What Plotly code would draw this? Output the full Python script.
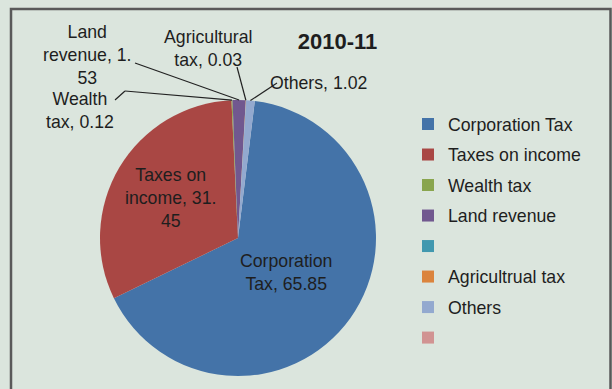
import math
import plotly.graph_objects as go

# Share of direct tax collections, 2010-11 (per cent)
categories = ["Corporation Tax", "Taxes on income", "Wealth tax", "Land revenue",
              " ", "Agricultrual tax", "Others", "  "]
shares = [65.85, 31.45, 0.12, 1.53, 0, 0.03, 1.02, 0]
colors = ["#4473A8", "#A94744", "#89A54E", "#71588F",
          "#4198AF", "#DB843D", "#93A9CF", "#D19392"]
year_label = "2010-11"

W, H = 612, 389
BG = "#DBE5DD"
INK = "#1E1E1E"
FONT = "Liberation Sans, Arial, sans-serif"
FS = 17.7

# pie geometry in pixels
CX, CY, R = 238, 238, 138
ROTATION = 7


def px(x):
    return x / W


def py(y):
    return 1 - y / H


def fmt(v):
    return f"{v:.2f}"


# mid-angle (degrees clockwise from 12 o'clock) for every slice
total = sum(shares)
mid_angle = {}
acc = ROTATION
for name, v in zip(categories, shares):
    span = v / total * 360
    mid_angle[name] = acc + span / 2
    acc += span


def polar(name, frac):
    a = math.radians(mid_angle[name])
    return CX + frac * R * math.sin(a), CY - frac * R * math.cos(a)


fig = go.Figure()

fig.add_trace(go.Pie(
    labels=categories,
    values=shares,
    marker=dict(colors=colors, line=dict(width=0)),
    sort=False,
    direction="clockwise",
    rotation=ROTATION,
    textinfo="none",
    hoverinfo="label+value",
    showlegend=False,
    domain=dict(x=[px(CX - R), px(CX + R)], y=[py(CY + R), py(CY - R)]),
))

# legend entries
for i, (name, c) in enumerate(zip(categories, colors)):
    fig.add_trace(go.Scatter(
        x=[None], y=[None], mode="markers", name=name,
        legendgroup=f"g{i}",
        marker=dict(symbol="square", size=9, color=c),
        showlegend=True, hoverinfo="skip",
    ))

annotations = []

# labels inside the two large slices
d = dict(zip(categories, shares))
a, b = fmt(d["Taxes on income"]).split(".")
inside = [
    ("Corporation Tax", 0.43, f"Corporation<br>Tax, {fmt(d['Corporation Tax'])}"),
    ("Taxes on income", 0.57, f"Taxes on<br>income, {a}.<br>{b}"),
]
for name, frac, txt in inside:
    x, y = polar(name, frac)
    annotations.append(dict(x=px(x), y=py(y), xref="paper", yref="paper",
                            text=txt, showarrow=False, xanchor="center",
                            yanchor="middle", font=dict(size=FS, color=INK, family=FONT)))

# labels outside the small slices, joined by leader lines
a, b = fmt(d["Land revenue"]).split(".")
outside = [
    # name, label centre, leader line points ending at the slice edge, text
    ("Land revenue", (87.5, 55), [(135, 63)], f"Land<br>revenue, {a}.<br>{b}"),
    ("Wealth tax", (80, 110), [(115, 100), (125, 91)], f"Wealth<br>tax, {fmt(d['Wealth tax'])}"),
    ("Agricultrual tax", (208, 48.5), [(237, 67)], f"Agricultural<br>tax, {fmt(d['Agricultrual tax'])}"),
    ("Others", (318, 83), [(277, 83)], f"Others, {fmt(d['Others'])}"),
]
shapes = []
for name, (lx, ly), pts, txt in outside:
    annotations.append(dict(x=px(lx), y=py(ly), xref="paper", yref="paper",
                            text=txt, showarrow=False, xanchor="center",
                            yanchor="middle", font=dict(size=FS, color=INK, family=FONT)))
    path = pts + [polar(name, 1.0)]
    for (x0, y0), (x1, y1) in zip(path[:-1], path[1:]):
        shapes.append(dict(type="line", xref="paper", yref="paper",
                           x0=px(x0), y0=py(y0), x1=px(x1), y1=py(y1),
                           line=dict(color="#222222", width=1.2)))

# chart frame
shapes.append(dict(type="rect", xref="paper", yref="paper",
                   x0=px(11), y0=py(H + 20), x1=px(610.5), y1=py(9),
                   line=dict(color="#595959", width=2.5), layer="below"))

fig.update_layout(
    width=W, height=H,
    margin=dict(l=0, r=0, t=0, b=0),
    paper_bgcolor=BG, plot_bgcolor=BG,
    font=dict(family=FONT, size=FS, color=INK),
    title=dict(text=f"<b>{year_label}</b>", x=px(337.5), y=py(41),
               xanchor="center", yanchor="middle",
               font=dict(size=22, color=INK, family=FONT)),
    xaxis=dict(visible=False), yaxis=dict(visible=False),
    legend=dict(x=px(408), y=py(106), xanchor="left", yanchor="top",
                bgcolor="rgba(0,0,0,0)", tracegroupgap=4.5,
                font=dict(size=FS, color=INK, family=FONT),
                itemsizing="constant"),
    annotations=annotations,
    shapes=shapes,
    showlegend=True,
)

fig.write_html("out.html")
